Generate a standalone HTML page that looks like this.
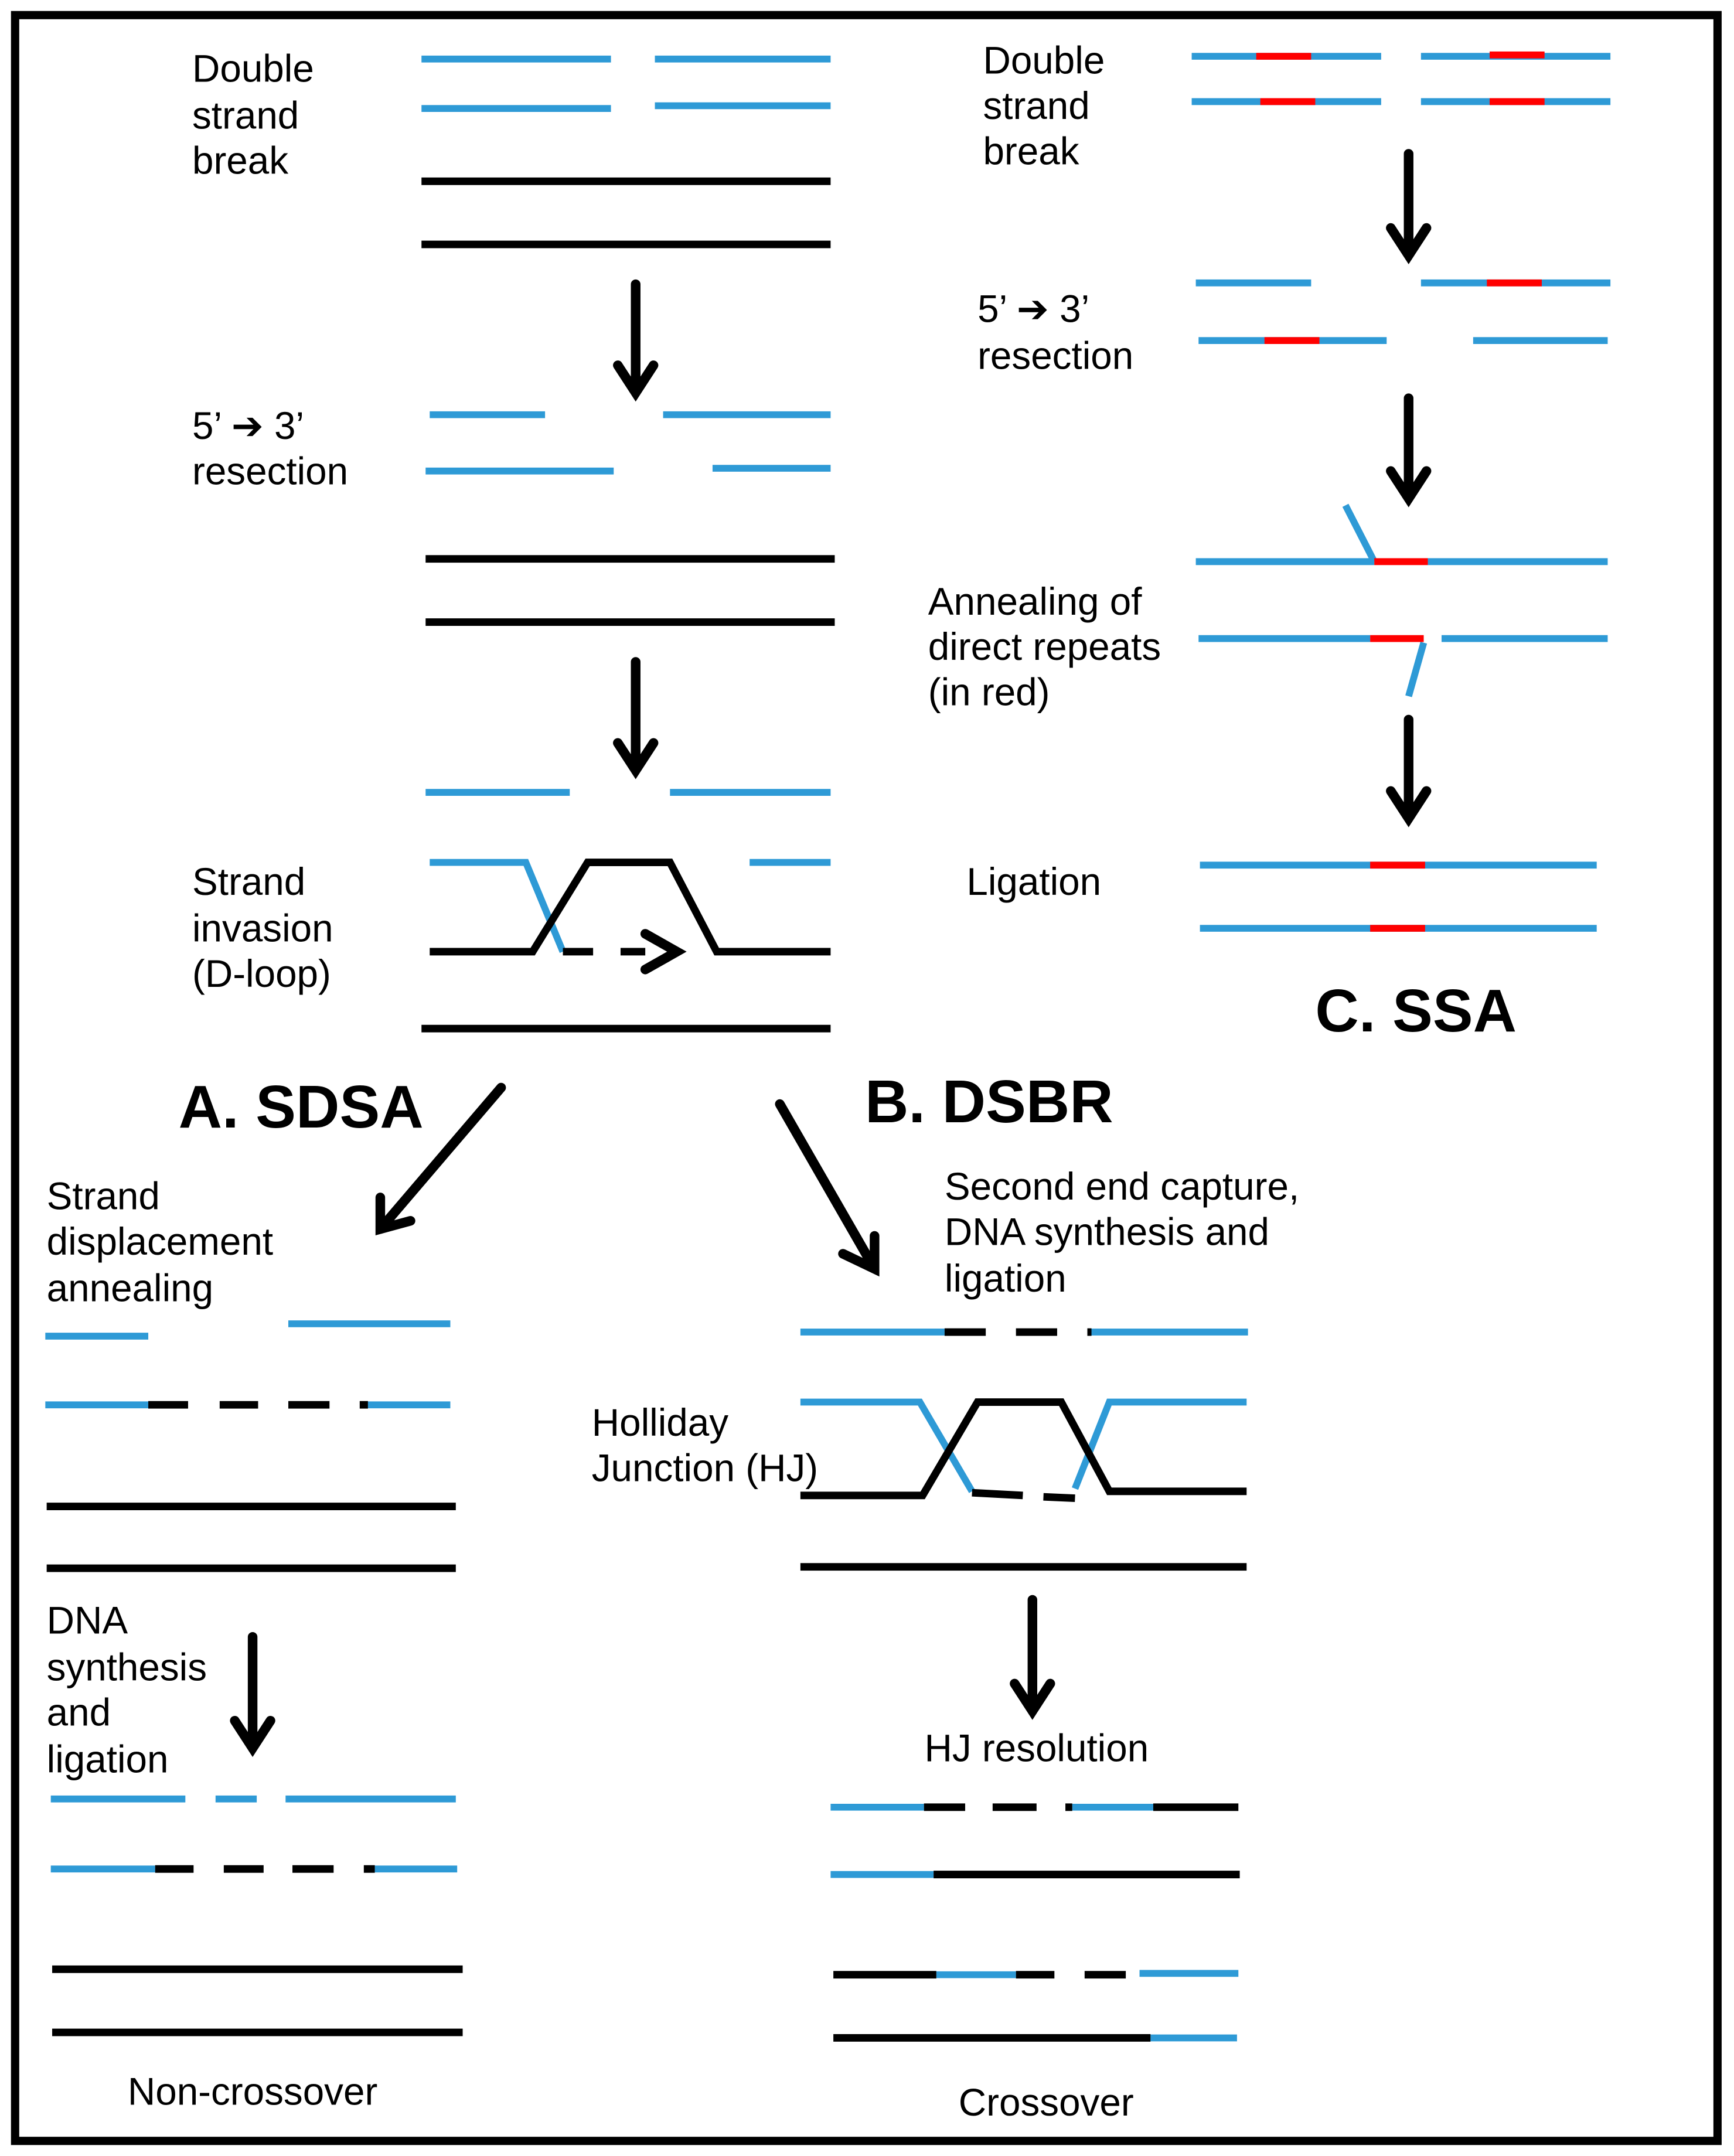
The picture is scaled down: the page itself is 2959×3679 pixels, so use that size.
<!DOCTYPE html>
<html><head><style>html,body{margin:0;padding:0;background:#fff}svg{display:block}</style></head>
<body>
<svg xmlns="http://www.w3.org/2000/svg" width="2959" height="3679" viewBox="0 0 1263 1570" preserveAspectRatio="none">
<defs><style>
.b{stroke:#2e9ad6;stroke-width:5;fill:none}
.k{stroke:#000;stroke-width:5.5;fill:none}
.r{stroke:#ff0000;stroke-width:5;fill:none}
.a{stroke:#000;stroke-width:7;fill:none;stroke-linecap:round;stroke-linejoin:miter}
text{font-family:"Liberation Sans",sans-serif;font-size:28px;fill:#000;dominant-baseline:central}
.t{font-weight:bold;font-size:44px}
</style></defs>
<rect x="11" y="11" width="1240" height="1548" fill="none" stroke="#000" stroke-width="6"/>

<!-- top left -->
<text x="140" y="50">Double</text><text x="140" y="84">strand</text><text x="140" y="117">break</text>
<path class="b" d="M307 43H445M477 43H605M307 79H445M477 77H605"/>
<path class="k" d="M307 132H605M307 178H605"/>
<path class="a" d="M463 207V286M450 266L463 286L476 266"/>
<text x="140" y="310">5’  ➔  3’</text><text x="140" y="343">resection</text>
<path class="b" d="M313 302H397M483 302H605M310 343H447M519 341H605"/>
<path class="k" d="M310 407H608M310 453H608"/>
<path class="a" d="M463 482V561M450 541L463 561L476 541"/>
<path class="b" d="M310 577H415M488 577H605"/>
<text x="140" y="642">Strand</text><text x="140" y="676">invasion</text><text x="140" y="709">(D-loop)</text>
<path class="b" d="M313 628H383L410 693M546 628H605"/>
<path class="k" d="M313 693H388L428 628H488L522 693H605"/>
<path class="k" d="M410 693H432M452 693H470"/>
<path class="a" d="M470 680L493 693L470 706"/>
<path class="k" d="M307 749H605"/>

<text class="t" x="130" y="806">A. SDSA</text>
<text class="t" x="630" y="802">B. DSBR</text>
<path class="a" d="M365 792L277 895M277 872L277 895L299 889"/>
<path class="a" d="M568 804L637 924M614 913L637 924L637 900"/>

<!-- SDSA -->
<text x="34" y="871">Strand</text><text x="34" y="904">displacement</text><text x="34" y="938">annealing</text>
<path class="b" d="M33 973H108M210 964H328M33 1023H108M268 1023H328"/>
<path class="k" d="M108 1023H137M160 1023H188M210 1023H240M262 1023H268"/>
<path class="k" d="M34 1097H332M34 1142H332"/>
<text x="34" y="1180">DNA</text><text x="34" y="1214">synthesis</text><text x="34" y="1247">and</text><text x="34" y="1281">ligation</text>
<path class="a" d="M184 1192V1273M171 1253L184 1273L197 1253"/>
<path class="b" d="M37 1310H135M157 1310H187M208 1310H332M37 1361H113M273 1361H333"/>
<path class="k" d="M113 1361H141M163 1361H192M213 1361H243M265 1361H273"/>
<path class="k" d="M38 1434H337M38 1480H337"/>
<text x="184" y="1523" text-anchor="middle">Non-crossover</text>

<!-- DSBR -->
<text x="688" y="864">Second end capture,</text><text x="688" y="897">DNA synthesis and</text><text x="688" y="931">ligation</text>
<path class="b" d="M583 970H688M792 970H909"/>
<path class="k" d="M688 970H718M740 970H770M792 970H795"/>
<text x="431" y="1036">Holliday</text><text x="431" y="1069">Junction  (HJ)</text>
<path class="b" d="M583 1021H670L708 1086M908 1021H808L783 1084"/>
<path class="k" d="M583 1089H672L712 1021H773L808 1086H908"/>
<path class="k" d="M708 1087L745 1089M760 1090L783 1091"/>
<path class="k" d="M583 1141H908"/>
<path class="a" d="M752 1165V1246M739 1226L752 1246L765 1226"/>
<text x="755" y="1273" text-anchor="middle">HJ resolution</text>
<path class="b" d="M605 1316H673M781 1316H840M605 1365H680M682 1438H740M830 1437H902M838 1484H901"/>
<path class="k" d="M673 1316H703M723 1316H755M776 1316H781M840 1316H902M680 1365H903M607 1438H682M740 1438H768M790 1438H820M607 1484H838"/>
<text x="762" y="1531" text-anchor="middle">Crossover</text>

<!-- SSA -->
<text x="716" y="44">Double</text><text x="716" y="77">strand</text><text x="716" y="110">break</text>
<path class="b" d="M868 41H1006M1035 41H1173M868 74H1006M1035 74H1173"/>
<path class="r" d="M915 41H955M1085 40H1125M918 74H958M1085 74H1125"/>
<path class="a" d="M1026 112V186M1013 166L1026 186L1039 166"/>
<text x="712" y="225">5’  ➔  3’</text><text x="712" y="259">resection</text>
<path class="b" d="M871 206H955M1035 206H1173M873 248H1010M1073 248H1171"/>
<path class="r" d="M1083 206H1123M921 248H961"/>
<path class="a" d="M1026 290V363M1013 343L1026 363L1039 343"/>
<path class="b" d="M871 409H1001M1040 409H1171M980 368L1001 409M873 465H998M1050 465H1171M1037 468L1026 507"/>
<path class="r" d="M1001 409H1040M998 465H1037"/>
<text x="676" y="438">Annealing  of</text><text x="676" y="471">direct repeats</text><text x="676" y="504">(in red)</text>
<path class="a" d="M1026 524V596M1013 576L1026 596L1039 576"/>
<text x="704" y="642">Ligation</text>
<path class="b" d="M874 630H1163M874 676H1163"/>
<path class="r" d="M998 630H1038M998 676H1038"/>
<text class="t" x="958" y="736">C. SSA</text>
</svg>
</body></html>
